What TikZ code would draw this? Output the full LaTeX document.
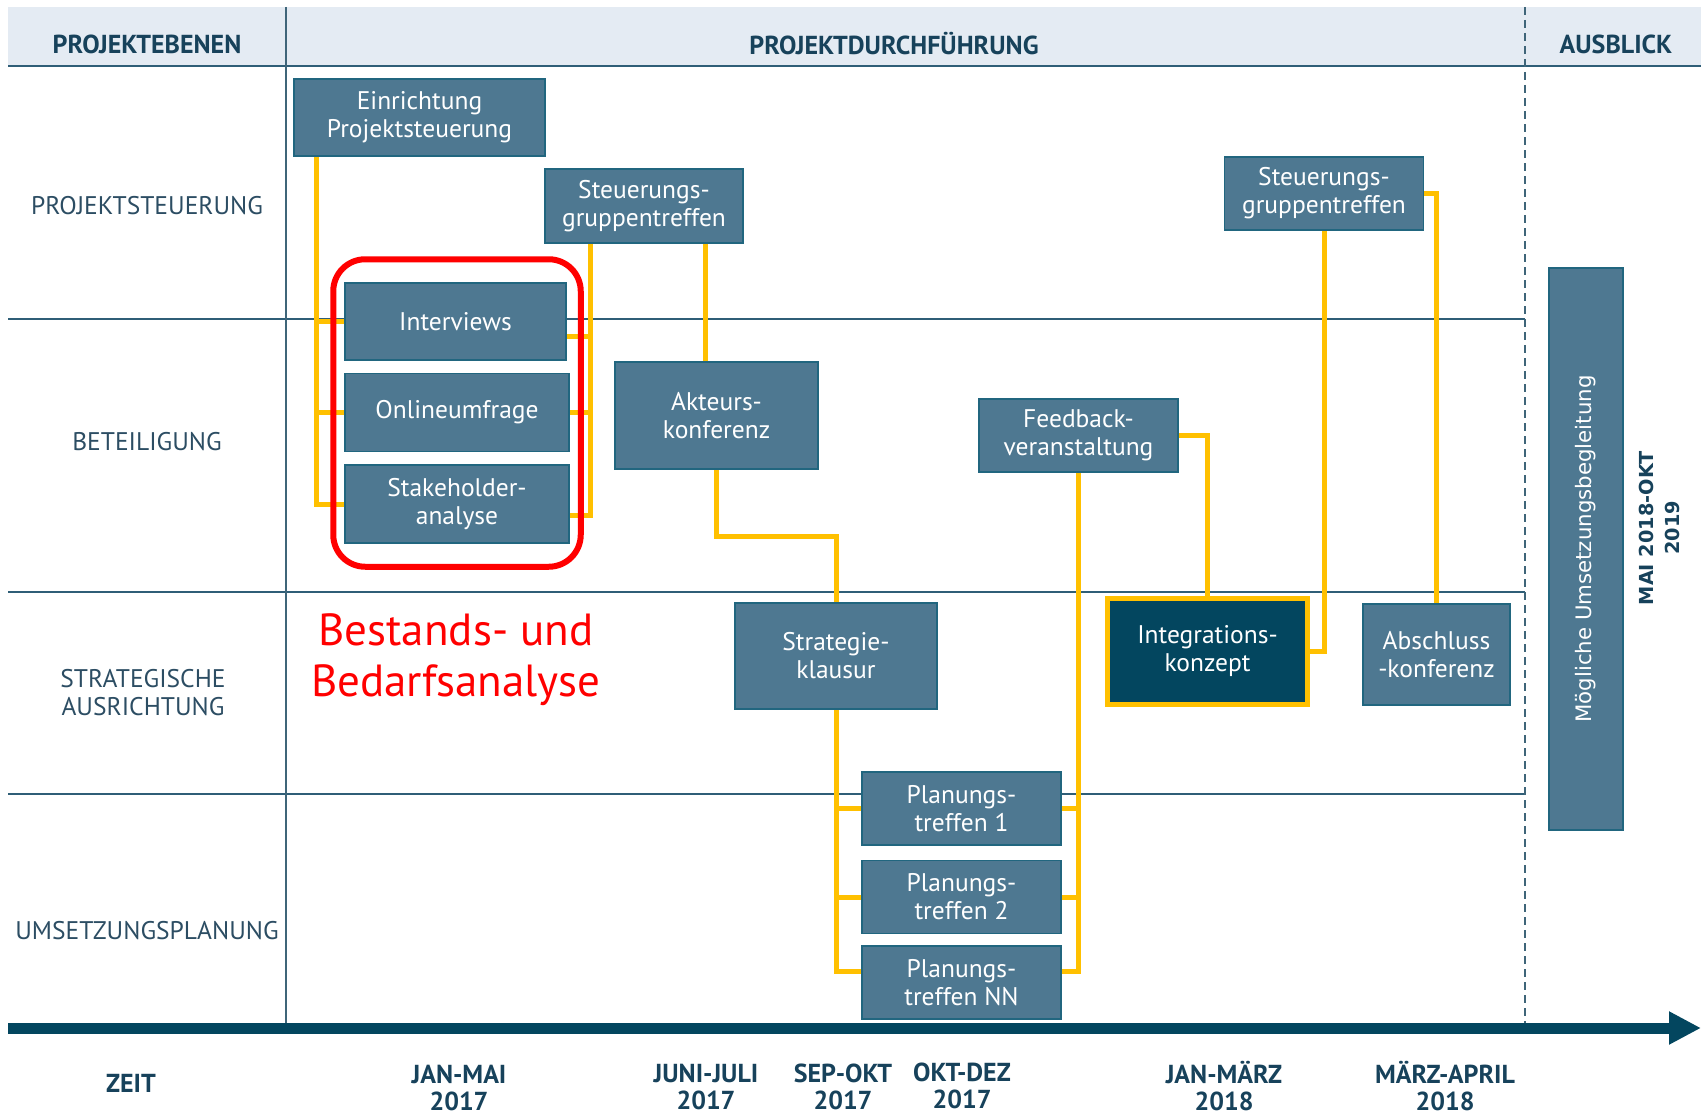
\documentclass[tikz,border=0pt]{standalone}
\usepackage{fontspec}
\setmainfont{PT Sans}
\newfontfamily\vertfont{DejaVu Sans}
\usetikzlibrary{positioning,fit,backgrounds,arrows.meta}

\definecolor{boxfill}{HTML}{4E7891}
\definecolor{boxrand}{HTML}{21667F}
\definecolor{integfill}{HTML}{03465F}
\definecolor{gelb}{HTML}{FFC000}
\definecolor{kopffill}{HTML}{E4EBF3}
\definecolor{kopftext}{HTML}{17425B}
\definecolor{labeltext}{HTML}{2C4D63}
\definecolor{linie}{HTML}{2F5E77}
\definecolor{rot}{HTML}{FF0000}

\tikzset{
    massnahme/.style={
        rectangle,
        draw=boxrand,
        line width=1.5pt,
        fill=boxfill,
        text=white,
        align=center,
        inner sep=0pt,
        font={\fontsize{25.5}{28}\selectfont},
    },
    integration/.style={
        massnahme,
        draw=gelb,
        line width=5pt,
        fill=integfill,
    },
    kopf/.style={
        text=kopftext,
        align=center,
        inner sep=0pt,
        font={\fontsize{26}{27.5}\selectfont\bfseries},
    },
    ebene/.style={
        text=labeltext,
        align=center,
        inner sep=1pt,
        font={\fontsize{25.5}{28}\selectfont},
    },
    verbindung/.style={
        draw=gelb,
        line width=5pt,
    },
    zeile/.style={
        draw=linie,
        line width=1.3pt,
    },
    achse/.style={
        draw=integfill,
        line width=11pt,
        -{Triangle[length=32pt,width=31pt]},
    },
    rahmen/.style={
        draw=rot,
        line width=6pt,
        rounded corners=32pt,
    },
}

\begin{document}
\begin{tikzpicture}[x=1pt,y=-1pt]
    \useasboundingbox (0,0) rectangle (1701,1116);

    % Kopfzeile und Ebenen
    \node[kopf] (kebenen) at (147,44) {PROJEKTEBENEN};
    \node[kopf] (kdurch) at (894,44) {PROJEKTDURCHFÜHRUNG};
    \node[kopf] (kausblick) at (1616,44) {AUSBLICK};
    \node[ebene] (lsteuer) at (147,206) {PROJEKTSTEUERUNG};
    \node[ebene] (lbeteil) at (147,442) {BETEILIGUNG};
    \node[ebene] (lstrat) at (143,693) {STRATEGISCHE\\AUSRICHTUNG};
    \node[ebene] (lumsetz) at (147,931) {UMSETZUNGSPLANUNG};

    % Zeitpunkte
    \node[kopf] (zeit) at (131,1083) {ZEIT};
    \node[kopf] (tjanmai) at (459,1088) {JAN-MAI\\2017};
    \node[kopf] (tjuni) at (706,1087) {JUNI-JULI\\2017};
    \node[kopf] (tsep) at (843,1087) {SEP-OKT\\2017};
    \node[kopf] (tokt) at (962,1086) {OKT-DEZ\\2017};
    \node[kopf] (tjan) at (1224,1086) {JAN-MÄRZ\\2018};
    \node[kopf] (tmaerz) at (1445,1086) {MÄRZ-APRIL\\2018};

    % Massnahmen
    \node[massnahme,minimum width=251pt,minimum height=77pt] (einr) at (419.5,117.5) {Einrichtung\\Projektsteuerung};
    \node[massnahme,minimum width=198pt,minimum height=74pt] (steu1) at (644,206) {Steuerungs-\\gruppentreffen};
    \node[massnahme,minimum width=221pt,minimum height=77pt] (interv) at (455.5,321.5) {Interviews};
    \node[massnahme,minimum width=224pt,minimum height=78pt,below=12pt of interv.south west,anchor=north west] (online) {Onlineumfrage};
    \node[massnahme,minimum width=224pt,minimum height=78pt,below=12pt of online] (stake) {Stakeholder-\\analyse};
    \node[massnahme,minimum width=203pt,minimum height=107pt] (akteur) at (716.5,415.5) {Akteurs-\\konferenz};
    \node[massnahme,minimum width=202pt,minimum height=106pt] (strat) at (836,656) {Strategie-\\klausur};
    \node[massnahme,minimum width=199pt,minimum height=73pt] (plan1) at (961.5,808.5) {Planungs-\\treffen 1};
    \node[massnahme,minimum width=199pt,minimum height=73pt,below=14pt of plan1] (plan2) {Planungs-\\treffen 2};
    \node[massnahme,minimum width=199pt,minimum height=73pt,below=11pt of plan2] (plan3) {Planungs-\\treffen NN};
    \node[massnahme,minimum width=199pt,minimum height=73pt] (feedb) at (1078.5,435.5) {Feedback-\\veranstaltung};
    \node[integration,minimum width=200pt,minimum height=106pt] (integ) at (1207.5,651.5) {Integrations-\\konzept};
    \node[massnahme,minimum width=199pt,minimum height=73pt] (steu2) at (1324,193.5) {Steuerungs-\\gruppentreffen};
    \node[massnahme,minimum width=147pt,minimum height=101pt] (absch) at (1436.5,654.5) {Abschluss\\-konferenz};
    \node[massnahme,rotate=90,minimum width=562pt,minimum height=74pt,font={\vertfont\fontsize{21.3}{24}\selectfont}] (begleit) at (1586,549) {Mögliche Umsetzungsbegleitung};
    \node[rotate=90,align=center,text=kopftext,font={\vertfont\fontsize{19.3}{26}\selectfont\bfseries}] (mai) at (1659,528) {MAI 2018-OKT\\2019};

    % Bestands- und Bedarfsanalyse
    \node[rahmen,fit=(interv)(online)(stake),inner xsep=11pt,inner ysep=23pt] (bestand) {};
    \node[text=rot,align=center,font={\fontsize{45}{51}\selectfont}] (bestandtext) at (456,660) {Bestands- und\\Bedarfsanalyse};

    \coordinate (zeitstart) at (8,1028);
    \coordinate (zeitende) at (1701,1028);

    \begin{scope}[on background layer]
        \fill[kopffill] (8,7) rectangle (1701,66);
        \draw[zeile,line width=2pt] (8,66) -- (1701,66);
        \draw[zeile] (8,319) -- (1525,319);
        \draw[zeile] (8,592) -- (1525,592);
        \draw[zeile] (8,794) -- (1525,794);
        \draw[draw=linie!80!gray,line width=1.5pt] (286,7) -- (286,1023);
        \draw[draw=linie!80!gray,line width=1.5pt,dash pattern=on 8pt off 5pt] (1525,7) -- (1525,1023);

        % gelbe Verbindungen
        \draw[verbindung] ([xshift=23pt]einr.south west) coordinate (lk) |- (stake.west);
        \draw[verbindung] (lk |- interv.west) -- (interv.west);
        \draw[verbindung] (lk |- online.west) -- (online.west);
        \coordinate (ivr) at ([yshift=-15pt]interv.east);
        \coordinate (str) at ([yshift=-11pt]stake.east);
        \draw[verbindung] ([xshift=46pt]steu1.south west) coordinate (rk) |- (str);
        \draw[verbindung] (ivr) -- (ivr -| rk);
        \draw[verbindung] (online.east) -- (online.east -| rk);
        \draw[verbindung] ([xshift=-11pt]akteur.north) coordinate (ak) -- (ak |- steu1.south);
        \draw[verbindung] (akteur.south) -- ++(0,67) -| (strat.north);
        \coordinate (p3l) at ([yshift=11pt]plan3.west);
        \coordinate (p3r) at ([yshift=11pt]plan3.east);
        \draw[verbindung] (strat.south) |- (p3l);
        \draw[verbindung] (strat.south |- plan1.west) -- (plan1.west);
        \draw[verbindung] (strat.south |- plan2.west) -- (plan2.west);
        \draw[verbindung] (feedb.south) |- (p3r);
        \draw[verbindung] (feedb.south |- plan1.east) -- (plan1.east);
        \draw[verbindung] (feedb.south |- plan2.east) -- (plan2.east);
        \draw[verbindung] (feedb.east) -| (integ.north);
        \draw[verbindung] (steu2.south) |- (integ.east);
        \draw[verbindung] (steu2.east) -| (absch.north);

        \draw[achse] (zeitstart) -- (zeitende);
    \end{scope}
\end{tikzpicture}
\end{document}
